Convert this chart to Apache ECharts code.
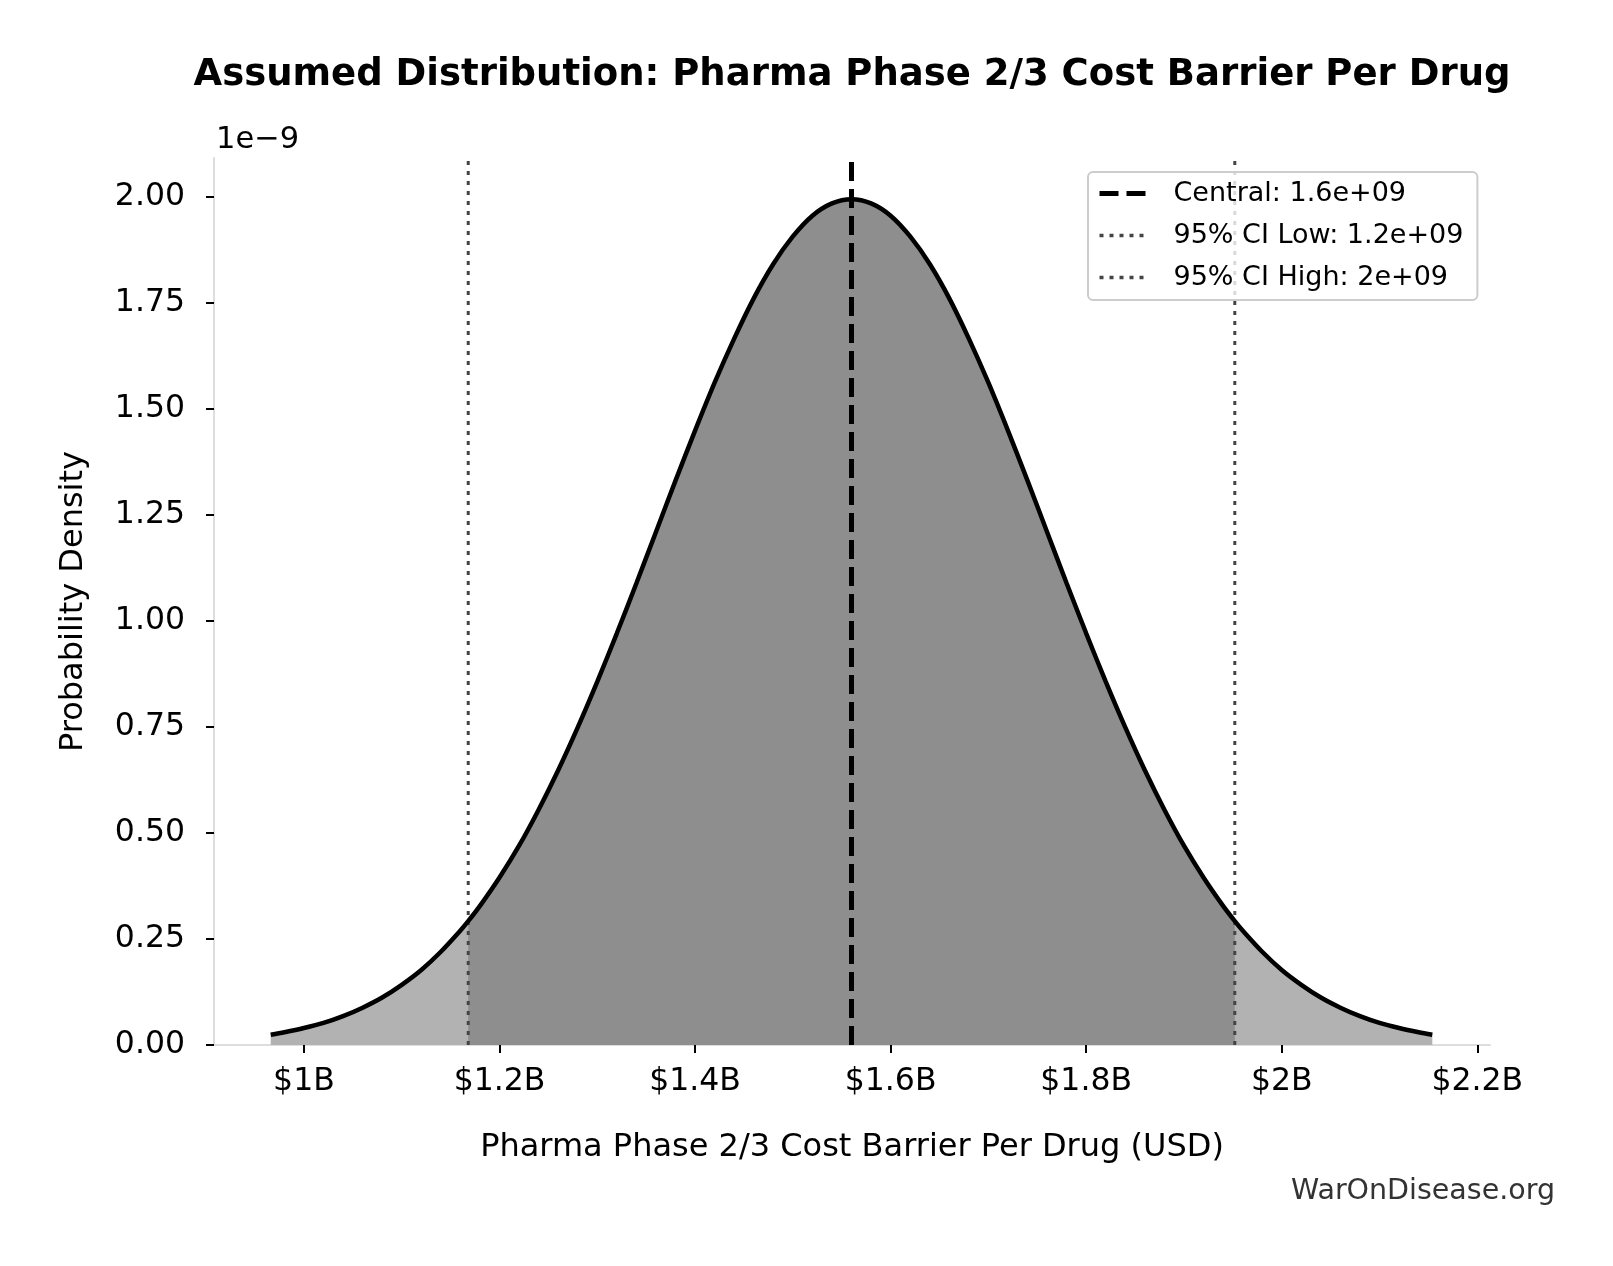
<!DOCTYPE html>
<html>
<head>
<meta charset="utf-8">
<title>Assumed Distribution</title>
<script src="https://cdn.jsdelivr.net/npm/echarts@6/dist/echarts.min.js"></script>
<style>
	html, body { margin: 0; padding: 0; background: #fff; }
	#chart { width: 1613px; height: 1266px; }
</style>
</head>
<body>
<div id="chart"></div>
<script>
// cost values in $ billions, density in units of 1e-9
var costB = [0.966, 0.98, 1.00, 1.02, 1.04, 1.06, 1.08, 1.10, 1.12, 1.14, 1.16, 1.168, 1.18, 1.20, 1.22, 1.24, 1.26, 1.28, 1.30,
	1.32, 1.34, 1.36, 1.38, 1.40, 1.42, 1.44, 1.46, 1.48, 1.50, 1.52, 1.54, 1.56, 1.58, 1.60, 1.62, 1.64, 1.66, 1.68, 1.70,
	1.72, 1.74, 1.76, 1.78, 1.80, 1.82, 1.84, 1.86, 1.88, 1.90, 1.92, 1.94, 1.952, 1.96, 1.98, 2.00, 2.02, 2.04, 2.06, 2.08,
	2.10, 2.12, 2.14, 2.154];
var density = [0.024, 0.030, 0.040, 0.052, 0.068, 0.088, 0.112, 0.142, 0.177, 0.220, 0.270, 0.292, 0.328, 0.395, 0.470, 0.555, 0.648, 0.749, 0.857,
	0.971, 1.089, 1.210, 1.331, 1.449, 1.562, 1.666, 1.761, 1.842, 1.907, 1.956, 1.985, 1.995, 1.985, 1.956, 1.907, 1.842, 1.761, 1.666, 1.562,
	1.449, 1.331, 1.210, 1.089, 0.971, 0.857, 0.749, 0.648, 0.555, 0.470, 0.395, 0.328, 0.292, 0.270, 0.220, 0.177, 0.142, 0.112, 0.088, 0.068,
	0.052, 0.040, 0.030, 0.024];

var centralB = 1.56;
var ciLowB = 1.168;
var ciHighB = 1.952;

var legendNames = ["Central: 1.6e+09", "95% CI Low: 1.2e+09", "95% CI High: 2e+09"];

var xTicks = [1.0, 1.2, 1.4, 1.6, 1.8, 2.0, 2.2];
var xTickLabels = ["$1B", "$1.2B", "$1.4B", "$1.6B", "$1.8B", "$2B", "$2.2B"];
var yTicks = [0, 0.25, 0.5, 0.75, 1.0, 1.25, 1.5, 1.75, 2.0];
var yTickLabels = ["0.00", "0.25", "0.50", "0.75", "1.00", "1.25", "1.50", "1.75", "2.00"];

var xMin = 0.908, xMax = 2.213;
var yMin = 0, yMax = 2.092;

var FONT = "DejaVu Sans";

// 曲线数据
var curve = costB.map(function(x, i) { return [x, density[i]]; });
var inner = curve.filter(function(p) { return p[0] >= ciLowB && p[0] <= ciHighB; });

function vline(x) {
	return [[x, yMin], [x, yMax]];
}

function tickLabel(list, labels) {
	return function(v) {
		for (var i = 0; i < list.length; i++) {
			if (Math.abs(list[i] - v) < 1e-6) return labels[i];
		}
		return "";
	};
}

var myChart = echarts.init(document.getElementById("chart"), null, { renderer: "canvas" });

var noSymbol = { color: "rgba(0,0,0,0)", borderWidth: 0, opacity: 0 };

var option = {
	backgroundColor: "#fff",
	animation: false,
	textStyle: { fontFamily: FONT },
	grid: { left: 214, right: 123, top: 158, bottom: 221, containLabel: false },
	graphic: [
		{
			type: "text", x: 852, y: 75,
			style: { text: "Assumed Distribution: Pharma Phase 2/3 Cost Barrier Per Drug", font: "bold 37px " + FONT,
				fill: "#000", align: "center", verticalAlign: "middle" }
		},
		{
			type: "text", x: 216, y: 140,
			style: { text: "1e\u22129", font: "30.5px " + FONT, fill: "#000", align: "left", verticalAlign: "middle" }
		},
		{
			type: "text", x: 1555, y: 1192,
			style: { text: "WarOnDisease.org", font: "28.5px " + FONT, fill: "#333", align: "right", verticalAlign: "middle" }
		}
	],
	legend: {
		orient: "vertical",
		left: 1088,
		top: 172,
		padding: [8, 14, 9, 9],
		itemGap: 15,
		itemWidth: 50,
		itemHeight: 14,
		backgroundColor: "rgba(255,255,255,0.8)",
		borderColor: "#cccccc",
		borderWidth: 2,
		borderRadius: 5,
		textStyle: { fontSize: 27, color: "#000", fontFamily: FONT, padding: [0, 0, 0, 19] },
		data: [
			{ name: legendNames[0], itemStyle: noSymbol, lineStyle: { color: "#000", width: 5, type: [19, 8] } },
			{ name: legendNames[1], itemStyle: noSymbol, lineStyle: { color: "#444", width: 3.5, type: [4, 6] } },
			{ name: legendNames[2], itemStyle: noSymbol, lineStyle: { color: "#444", width: 3.5, type: [4, 6] } }
		]
	},
	xAxis: {
		type: "value",
		min: xMin,
		max: xMax,
		name: "Pharma Phase 2/3 Cost Barrier Per Drug (USD)",
		nameLocation: "middle",
		nameGap: 87,
		nameTextStyle: { fontSize: 32, color: "#000", fontFamily: FONT },
		axisLine: { show: true, lineStyle: { color: "#dddddd", width: 2 } },
		axisTick: { show: true, length: 8, customValues: xTicks, lineStyle: { color: "#000", width: 2 } },
		axisLabel: { customValues: xTicks, formatter: tickLabel(xTicks, xTickLabels), fontSize: 31.5, color: "#000", margin: 21, fontFamily: FONT },
		splitLine: { show: false }
	},
	yAxis: {
		type: "value",
		min: yMin,
		max: yMax,
		name: "Probability Density",
		nameLocation: "middle",
		nameGap: 124,
		nameTextStyle: { fontSize: 32, color: "#000", fontFamily: FONT },
		axisLine: { show: true, lineStyle: { color: "#dddddd", width: 2 } },
		axisTick: { show: true, length: 8, customValues: yTicks, lineStyle: { color: "#000", width: 2 } },
		axisLabel: { customValues: yTicks, formatter: tickLabel(yTicks, yTickLabels), fontSize: 31.5, color: "#000", margin: 29, fontFamily: FONT },
		splitLine: { show: false }
	},
	series: [
		{
			name: "tails", type: "line", data: curve, symbol: "none", silent: true, z: 1,
			smooth: 0.3,
			lineStyle: { width: 0 }, areaStyle: { color: "#b2b2b2", opacity: 1 }
		},
		{
			name: "ci", type: "line", data: inner, symbol: "none", silent: true, z: 2,
			smooth: 0.3,
			lineStyle: { width: 0 }, areaStyle: { color: "#8e8e8e", opacity: 1 }
		},
		{
			name: legendNames[1], type: "line", data: vline(ciLowB), symbol: "none", z: 3,
			itemStyle: { color: "#444" },
			lineStyle: { color: "#444", width: 3, type: [4, 6] }
		},
		{
			name: legendNames[2], type: "line", data: vline(ciHighB), symbol: "none", z: 3,
			itemStyle: { color: "#444" },
			lineStyle: { color: "#444", width: 3, type: [4, 6] }
		},
		{
			name: "pdf", type: "line", data: curve, symbol: "none", z: 4,
			smooth: 0.3,
			lineStyle: { color: "#000", width: 4.5 }
		},
		{
			name: legendNames[0], type: "line", data: vline(centralB), symbol: "none", z: 5,
			itemStyle: { color: "#000" },
			lineStyle: { color: "#000", width: 5, type: [19, 8] }
		}
	]
};

myChart.setOption(option);
</script>
</body>
</html>
